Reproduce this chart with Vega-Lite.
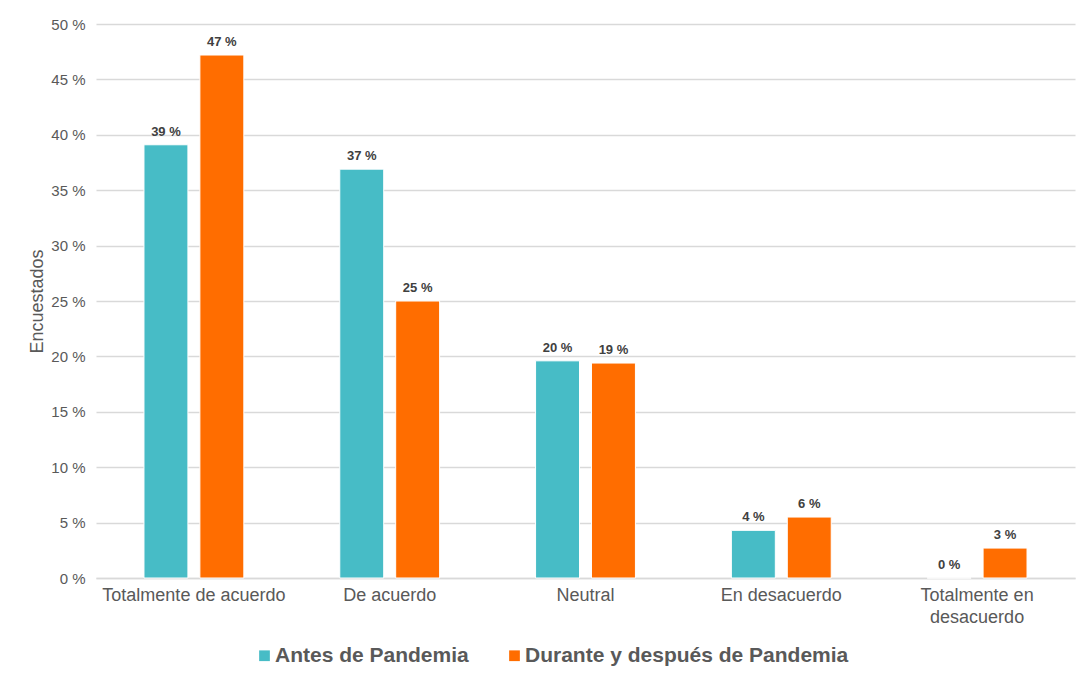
{
  "$schema": "https://vega.github.io/schema/vega-lite/v6.json",
  "autosize": {"type": "none"},
  "width": 979,
  "height": 554,
  "padding": {"left": 96, "top": 24, "right": 14, "bottom": 97},
  "background": "white",
  "config": {
    "font": "Liberation Sans",
    "view": {"stroke": null},
    "axis": {"labelColor": "#595959", "titleColor": "#595959", "labelFont": "Liberation Sans", "titleFont": "Liberation Sans"}
  },
  "data": {
    "values": [
      {"cat": "Totalmente de acuerdo", "serie": "Antes de Pandemia", "v": 39.1},
      {"cat": "Totalmente de acuerdo", "serie": "Durante y después de Pandemia", "v": 47.2},
      {"cat": "De acuerdo", "serie": "Antes de Pandemia", "v": 36.9},
      {"cat": "De acuerdo", "serie": "Durante y después de Pandemia", "v": 25.0},
      {"cat": "Neutral", "serie": "Antes de Pandemia", "v": 19.6},
      {"cat": "Neutral", "serie": "Durante y después de Pandemia", "v": 19.4},
      {"cat": "En desacuerdo", "serie": "Antes de Pandemia", "v": 4.3},
      {"cat": "En desacuerdo", "serie": "Durante y después de Pandemia", "v": 5.5},
      {"cat": "Totalmente en desacuerdo", "serie": "Antes de Pandemia", "v": 0},
      {"cat": "Totalmente en desacuerdo", "serie": "Durante y después de Pandemia", "v": 2.7}
    ]
  },
  "transform": [{"calculate": "format(datum.v, '.0f') + ' %'", "as": "lbl"}],
  "encoding": {
    "x": {
      "field": "cat", "type": "nominal", "sort": null,
      "scale": {"paddingInner": 0.49, "paddingOuter": 0.245},
      "axis": {
        "title": null, "labelAngle": 0, "labelFontSize": 18, "labelPadding": 8,
        "ticks": false, "domain": true, "domainColor": "#d9d9d9", "domainWidth": 1.5,
        "labelLineHeight": 22, "labelLimit": 0,
        "labelExpr": "datum.label == 'Totalmente en desacuerdo' ? ['Totalmente en', 'desacuerdo'] : datum.label"
      }
    },
    "xOffset": {"field": "serie", "type": "nominal", "scale": {"paddingInner": 0.214, "paddingOuter": 0}},
    "y": {
      "field": "v", "type": "quantitative",
      "scale": {"domain": [0, 50]},
      "axis": {
        "title": "Encuestados", "titleFontSize": 18, "titleFontWeight": "normal", "titlePadding": 4,
        "values": [0, 5, 10, 15, 20, 25, 30, 35, 40, 45, 50],
        "labelExpr": "datum.value + ' %'", "labelFontSize": 15, "labelPadding": 11,
        "ticks": false, "domain": false, "grid": true, "gridColor": "#d9d9d9", "gridWidth": 1.3
      }
    }
  },
  "layer": [
    {
      "mark": {"type": "bar", "stroke": "white", "strokeWidth": 1},
      "encoding": {
        "color": {
          "field": "serie", "type": "nominal",
          "scale": {"domain": ["Antes de Pandemia", "Durante y después de Pandemia"], "range": ["#47BCC6", "#FF6D00"]},
          "legend": {
            "title": null, "orient": "none", "direction": "horizontal",
            "legendX": 158, "legendY": 621,
            "symbolType": "square", "symbolSize": 115, "symbolStrokeWidth": 0,
            "labelFontSize": 21, "labelFontWeight": "bold", "labelColor": "#595959",
            "labelFont": "Liberation Sans", "columnPadding": 35, "labelOffset": 0, "labelLimit": 0
          }
        }
      }
    },
    {
      "mark": {"type": "text", "dy": -13, "fontSize": 13, "fontWeight": "bold", "color": "#404040", "font": "Liberation Sans"},
      "encoding": {"text": {"field": "lbl"}}
    }
  ]
}
